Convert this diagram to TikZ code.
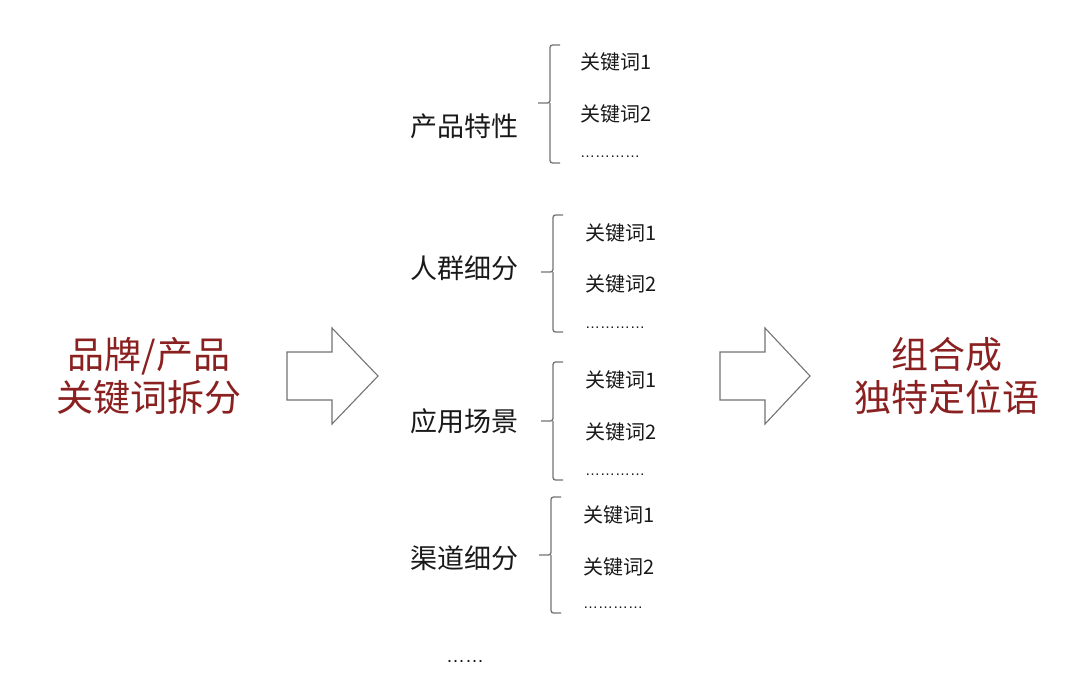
\documentclass[tikz,border=0pt]{standalone}
\usepackage{fontspec}
\setmainfont{Noto Sans CJK SC}
\newfontfamily\dotfont{Liberation Sans}
\definecolor{titlered}{RGB}{138,32,32}
\definecolor{linegray}{RGB}{115,115,115}
\definecolor{txt}{RGB}{25,25,25}
\tikzset{
  big/.style={font=\fontsize{37}{42}\selectfont, text=titlered, align=center, inner sep=0pt},
  cat/.style={font=\fontsize{27}{30}\selectfont, text=txt, inner sep=0pt},
  kw/.style={font=\fontsize{20}{24}\selectfont, text=txt, inner sep=0pt, anchor=west},
  kdots/.style={font=\dotfont\fontsize{15}{18}\selectfont, text=txt, inner sep=0pt, anchor=west},
  bracepath/.style={draw=linegray, line width=1.3pt, rounded corners=2.5pt},
  bigarrow/.style={draw=linegray, line width=1.1pt, fill=white},
}
\newcommand\kwbrace[4]{% x, ytop, ymid, ybot
  \draw[bracepath] (#1+10,#2) -- (#1,#2) -- (#1,#3) -- (#1-12,#3);
  \draw[bracepath] (#1,#3) -- (#1,#4) -- (#1+10,#4);
}
\begin{document}
\begin{tikzpicture}[x=1pt,y=-1pt]
\useasboundingbox (0,0) rectangle (1080,686);
% left and right titles
\node[big] (src) at (149,376) {品牌/产品\\[1pt]关键词拆分};
\node[big] (dst) at (947,376) {组合成\\[1pt]独特定位语};
% big arrows
\draw[bigarrow] (287,352) -- (332,352) -- (332,328) -- (378,376) -- (332,424) -- (332,400) -- (287,400) -- cycle;
\draw[bigarrow] (720,352) -- (765,352) -- (765,328) -- (810,376) -- (765,424) -- (765,400) -- (720,400) -- cycle;
% categories
\node[cat, anchor=west] (c1) at (410,126) {产品特性};
\node[cat, anchor=west] (c2) at (410,268) {人群细分};
\node[cat, anchor=west] (c3) at (410,421) {应用场景};
\node[cat, anchor=west] (c4) at (410,558) {渠道细分};
% braces
\kwbrace{550}{45}{103}{163}
\kwbrace{553}{215}{272}{332}
\kwbrace{553}{362}{421}{480}
\kwbrace{551}{497}{555}{613}
% keywords
\node[kw] (k11) at (580,62) {关键词1};
\node[kw] (k12) at (580,114) {关键词2};
\node[kdots] (k13) at (580,157) {…………};
\node[kw] (k21) at (585,233) {关键词1};
\node[kw] (k22) at (585,284) {关键词2};
\node[kdots] (k23) at (585,328) {…………};
\node[kw] (k31) at (585,380) {关键词1};
\node[kw] (k32) at (585,432) {关键词2};
\node[kdots] (k33) at (585,475) {…………};
\node[kw] (k41) at (583,515) {关键词1};
\node[kw] (k42) at (583,567) {关键词2};
\node[kdots] (k43) at (583,608) {…………};
% trailing ellipsis
\node[font=\dotfont\fontsize{19}{22}\selectfont, text=txt, inner sep=0pt, anchor=west] (more) at (446,661) {……};
\end{tikzpicture}
\end{document}
